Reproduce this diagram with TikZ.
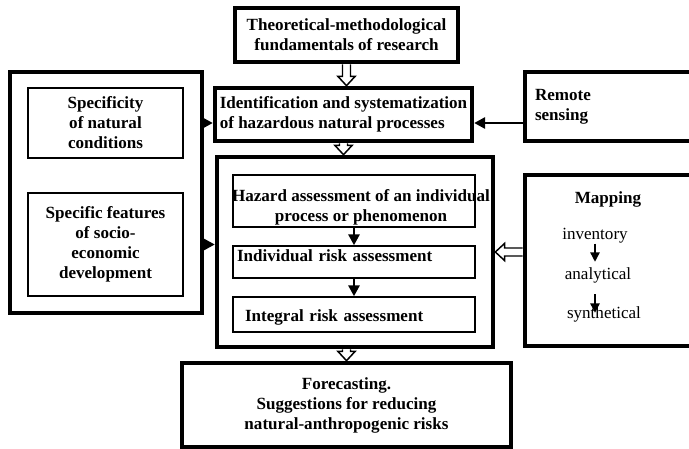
\documentclass[tikz,border=0pt]{standalone}
\usepackage{fontspec}
\setmainfont{Liberation Serif}
\usetikzlibrary{arrows.meta,calc}

\begin{document}
\begin{tikzpicture}[x=0.75pt, y=-0.75pt,
  every node/.style={font=\fontsize{12.8}{15}\selectfont\bfseries},
  bigbox/.style={draw, line width=3.5pt, align=center, inner sep=2pt},
  smallbox/.style={draw, line width=1.3pt, align=center, inner sep=2pt},
  listitem/.style={font=\fontsize{12.8}{15}\selectfont, inner sep=1pt, text height=0.7em, text depth=0.2em},
  arr/.style={line width=1.1pt, -{Triangle[length=8pt,width=8.5pt]}},
  smallarr/.style={line width=1.1pt, -{Triangle[length=7pt,width=7pt]}},
  hollow/.style={line width=1.1pt, to path={
    ($(\tikztostart)!3pt!90:(\tikztotarget)$)
    -- ($(\tikztotarget)!7pt!(\tikztostart)!3pt!-90:(\tikztostart)$)
    -- ($(\tikztotarget)!7pt!(\tikztostart)!6.5pt!-90:(\tikztostart)$)
    -- (\tikztotarget)
    -- ($(\tikztotarget)!7pt!(\tikztostart)!6.5pt!90:(\tikztostart)$)
    -- ($(\tikztotarget)!7pt!(\tikztostart)!3pt!90:(\tikztostart)$)
    -- ($(\tikztostart)!3pt!-90:(\tikztotarget)$)}}]
\useasboundingbox (0,0) rectangle (689,449);

\node[bigbox, minimum width=167.25pt, minimum height=40.5pt] (theory) at (346.5,35) {Theoretical-methodological\\fundamentals of research};
\node[bigbox, minimum width=192.75pt, minimum height=39.75pt, align=left] (ident) at (343.5,114.5) {Identification and systematization\\of hazardous natural processes};

% left block
\node[bigbox, minimum width=144pt, minimum height=180.75pt] (outer) at (106,192.5) {};
\node[smallbox, minimum width=116.25pt, minimum height=52.5pt] (natcond) at (105.5,123) {Specificity\\of natural\\conditions};
\node[smallbox, minimum width=116.25pt, minimum height=77.25pt] (socio) at (105.5,244.5) {Specific features\\of socio-\\economic\\development};

% central block
\node[bigbox, minimum width=207pt, minimum height=142.5pt] (central) at (355,252) {};
\node[smallbox, minimum width=181.5pt, minimum height=39pt] (hazard) at (354,201) {};
\node[align=center] (hazardtext) at (361,207) {Hazard assessment of an individual\\process or phenomenon};
\node[smallbox, minimum width=181.5pt, minimum height=24pt, align=left, text width=175.5pt, inner xsep=3pt, text height=5pt, text depth=5pt] (indiv) at (354,262) {Individual risk assessment};
\node[smallbox, minimum width=181.5pt, minimum height=26.25pt, align=left, text width=163.5pt, inner xsep=9pt, text height=10pt, text depth=0.25pt] (integral) at (354,314.5) {Integral risk assessment};

\node[bigbox, minimum width=246.75pt, minimum height=63pt] (forecast) at (346.5,405) {Forecasting.\\Suggestions for reducing\\natural-anthropogenic risks};

% right block
\node[bigbox, minimum width=132pt, minimum height=51.75pt, align=left, text width=117pt, inner xsep=7.5pt] (remote) at (613,106.5) {Remote\\sensing};
\node[bigbox, minimum width=132pt, minimum height=128.25pt] (mapping) at (613,260.5) {};
\node (maptitle) at (608,199) {Mapping};
\node[listitem] (inventory) at (595,236) {inventory};
\node[listitem] (analytical) at (598,276) {analytical};
\node[listitem] (synthetical) at (604,315) {synthetical};

\draw[arr] (natcond -| outer.east) -- (natcond -| ident.west);
\draw[arr] (socio -| outer.east) -- (socio -| central.west);
\draw[arr] (remote.west |- natcond) -- (natcond -| ident.east);
\draw[arr] (hazard) -- (indiv);
\draw[arr] (indiv) -- (integral);
\draw[smallarr, shorten >=5pt] (inventory.south) -- (inventory.south |- analytical.north);
\draw[smallarr, shorten <=8pt, shorten >=-4pt] (inventory.south |- analytical.south) -- (inventory.south |- synthetical.north);

\draw[hollow] (theory.south) to (theory.south |- ident.north);
\draw[hollow] (ident.south) to (ident.south |- central.north);
\draw[hollow] (forecast.north |- central.south) to (forecast.north);
\draw[hollow] (mapping.west |- central.east) to (central.east);
\end{tikzpicture}
\end{document}
